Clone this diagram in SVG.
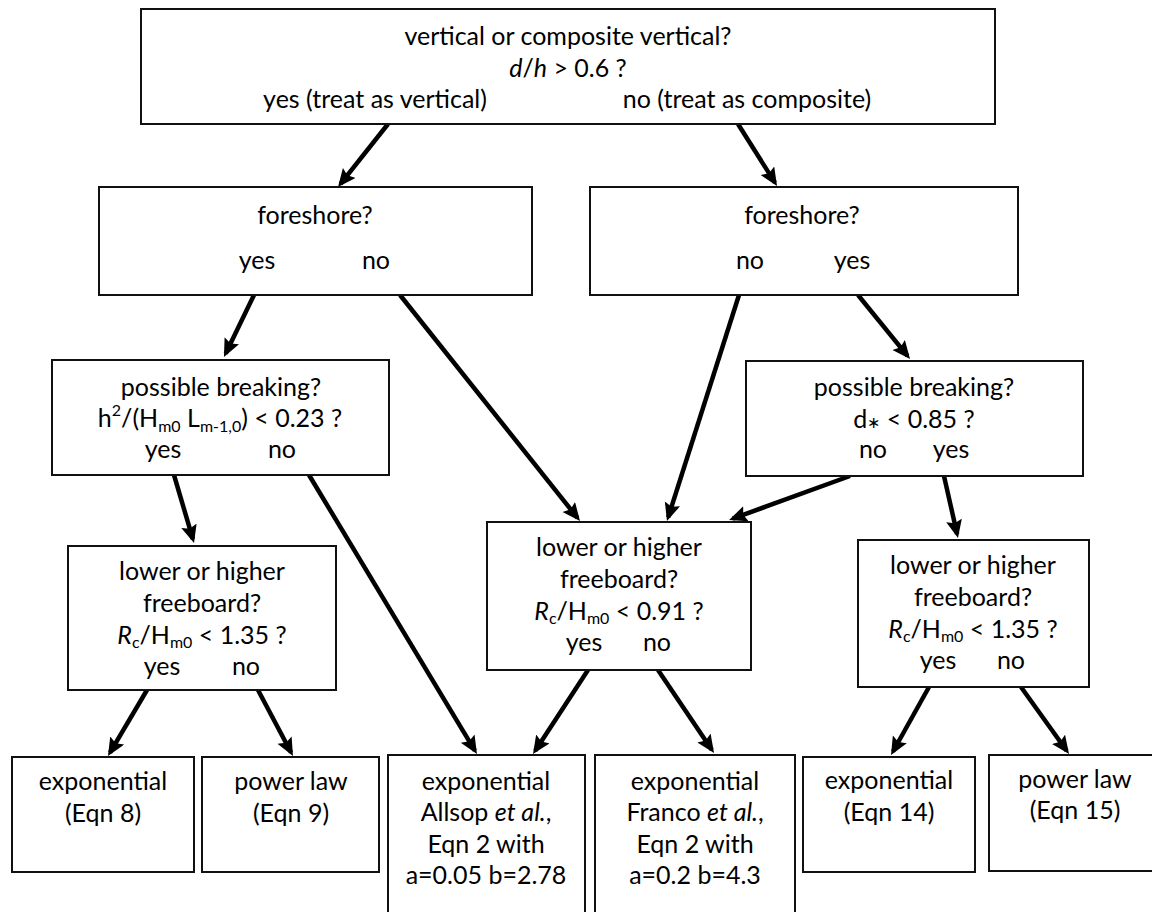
<svg xmlns="http://www.w3.org/2000/svg" width="1152" height="912" viewBox="0 0 1152 912">
<style>
.box{fill:#fff;stroke:#111;stroke-width:2}
text{font-family:Lato,"Open Sans","Liberation Sans",sans-serif;font-size:25px;fill:#000;text-anchor:middle}
.s{font-size:16px}
.i{font-style:italic}
.c{fill:none;stroke:#000;stroke-width:4.5;marker-end:url(#ah)}
</style>
<defs>
<marker id="ah" markerUnits="userSpaceOnUse" markerWidth="18" markerHeight="18" refX="14" refY="8" orient="auto">
<path d="M0,0 L18,8 L0,16 L3,8 z" fill="#000"/>
</marker>
</defs>
<rect width="1152" height="912" fill="#fff"/>
<g id="connectors">
<line class="c" x1="388" y1="124" x2="340.5" y2="183.9"/>
<line class="c" x1="738" y1="124" x2="774.9" y2="182.6"/>
<line class="c" x1="254" y1="295" x2="225.7" y2="353.4"/>
<line class="c" x1="400" y1="295" x2="577.5" y2="517.9"/>
<line class="c" x1="739" y1="295" x2="668.2" y2="517.2"/>
<line class="c" x1="858" y1="295" x2="907.5" y2="355.9"/>
<line class="c" x1="174" y1="475" x2="192.9" y2="539.2"/>
<line class="c" x1="309" y1="475" x2="474.9" y2="750.6"/>
<line class="c" x1="147" y1="690" x2="110" y2="752.6"/>
<line class="c" x1="258" y1="690" x2="291.1" y2="752.5"/>
<line class="c" x1="850" y1="476" x2="732.8" y2="518.6"/>
<line class="c" x1="588" y1="670" x2="535.2" y2="750.7"/>
<line class="c" x1="658" y1="670" x2="711.8" y2="749.7"/>
<line class="c" x1="944" y1="476" x2="957.1" y2="534.1"/>
<line class="c" x1="929" y1="687" x2="893" y2="751.5"/>
<line class="c" x1="1021" y1="687" x2="1066.7" y2="750.7"/>
</g>
<g id="n-top">
<rect class="box" x="141" y="9" width="854" height="115"/>
<text x="568" y="45">vertical or composite vertical?</text>
<text x="568" y="77"><tspan class="i">d</tspan>/<tspan class="i">h</tspan> &gt; 0.6 ?</text>
<text x="375" y="108">yes (treat as vertical)</text>
<text x="747" y="108">no (treat as composite)</text>
</g>
<g id="n-fore-left">
<rect class="box" x="99" y="187" width="433" height="108"/>
<text x="315" y="224">foreshore?</text>
<text x="257" y="269">yes</text>
<text x="376" y="269">no</text>
</g>
<g id="n-fore-right">
<rect class="box" x="590" y="187" width="428" height="108"/>
<text x="802" y="224">foreshore?</text>
<text x="750" y="269">no</text>
<text x="852" y="269">yes</text>
</g>
<g id="n-break-left">
<rect class="box" x="52" y="360" width="337" height="115"/>
<text x="221" y="396">possible breaking?</text>
<text x="220" y="427">h<tspan class="s" dy="-11">2</tspan><tspan dy="11">/(H</tspan><tspan class="s" dy="5">m0</tspan><tspan dy="-5"> L</tspan><tspan class="s" dy="5">m-1,0</tspan><tspan dy="-5">) &lt; 0.23 ?</tspan></text>
<text x="163" y="458">yes</text>
<text x="282" y="458">no</text>
</g>
<g id="n-break-right">
<rect class="box" x="746" y="361" width="337" height="115"/>
<text x="914" y="396">possible breaking?</text>
<text x="914" y="428">d<tspan class="s">∗</tspan> &lt; 0.85 ?</text>
<text x="873" y="458">no</text>
<text x="951" y="458">yes</text>
</g>
<g id="n-free-left">
<rect class="box" x="68" y="546" width="268" height="144"/>
<text x="202" y="580">lower or higher</text>
<text x="202" y="612">freeboard?</text>
<text x="202" y="644"><tspan class="i">R</tspan><tspan class="s" dy="4">c</tspan><tspan dy="-4">/H</tspan><tspan class="s" dy="4">m0</tspan><tspan dy="-4"> &lt; 1.35 ?</tspan></text>
<text x="162" y="675">yes</text>
<text x="246" y="675">no</text>
</g>
<g id="n-free-mid">
<rect class="box" x="487" y="522" width="264" height="148"/>
<text x="619" y="556">lower or higher</text>
<text x="619" y="588">freeboard?</text>
<text x="619" y="620"><tspan class="i">R</tspan><tspan class="s" dy="4">c</tspan><tspan dy="-4">/H</tspan><tspan class="s" dy="4">m0</tspan><tspan dy="-4"> &lt; 0.91 ?</tspan></text>
<text x="584" y="651">yes</text>
<text x="657" y="651">no</text>
</g>
<g id="n-free-right">
<rect class="box" x="858" y="540" width="231" height="147"/>
<text x="973" y="574">lower or higher</text>
<text x="973" y="606">freeboard?</text>
<text x="973" y="638"><tspan class="i">R</tspan><tspan class="s" dy="4">c</tspan><tspan dy="-4">/H</tspan><tspan class="s" dy="4">m0</tspan><tspan dy="-4"> &lt; 1.35 ?</tspan></text>
<text x="938" y="669">yes</text>
<text x="1011" y="669">no</text>
</g>
<g id="n-eqn8">
<rect class="box" x="12" y="757" width="182" height="115"/>
<text x="103" y="790">exponential</text>
<text x="103" y="822">(Eqn 8)</text>
</g>
<g id="n-eqn9">
<rect class="box" x="202" y="757" width="177" height="115"/>
<text x="291" y="790">power law</text>
<text x="291" y="822">(Eqn 9)</text>
</g>
<g id="n-allsop">
<rect class="box" x="388" y="755" width="197" height="170"/>
<text x="486" y="790">exponential</text>
<text x="486" y="821">Allsop <tspan class="i">et al.</tspan>,</text>
<text x="486" y="853">Eqn 2 with</text>
<text x="486" y="884">a=0.05 b=2.78</text>
</g>
<g id="n-franco">
<rect class="box" x="595" y="755" width="200" height="170"/>
<text x="695" y="790">exponential</text>
<text x="695" y="821">Franco <tspan class="i">et al.</tspan>,</text>
<text x="695" y="853">Eqn 2 with</text>
<text x="695" y="884">a=0.2 b=4.3</text>
</g>
<g id="n-eqn14">
<rect class="box" x="803" y="757" width="172" height="115"/>
<text x="889" y="789">exponential</text>
<text x="889" y="821">(Eqn 14)</text>
</g>
<g id="n-eqn15">
<rect class="box" x="989" y="755" width="175" height="116"/>
<text x="1075" y="788">power law</text>
<text x="1075" y="819">(Eqn 15)</text>
</g>
</svg>
